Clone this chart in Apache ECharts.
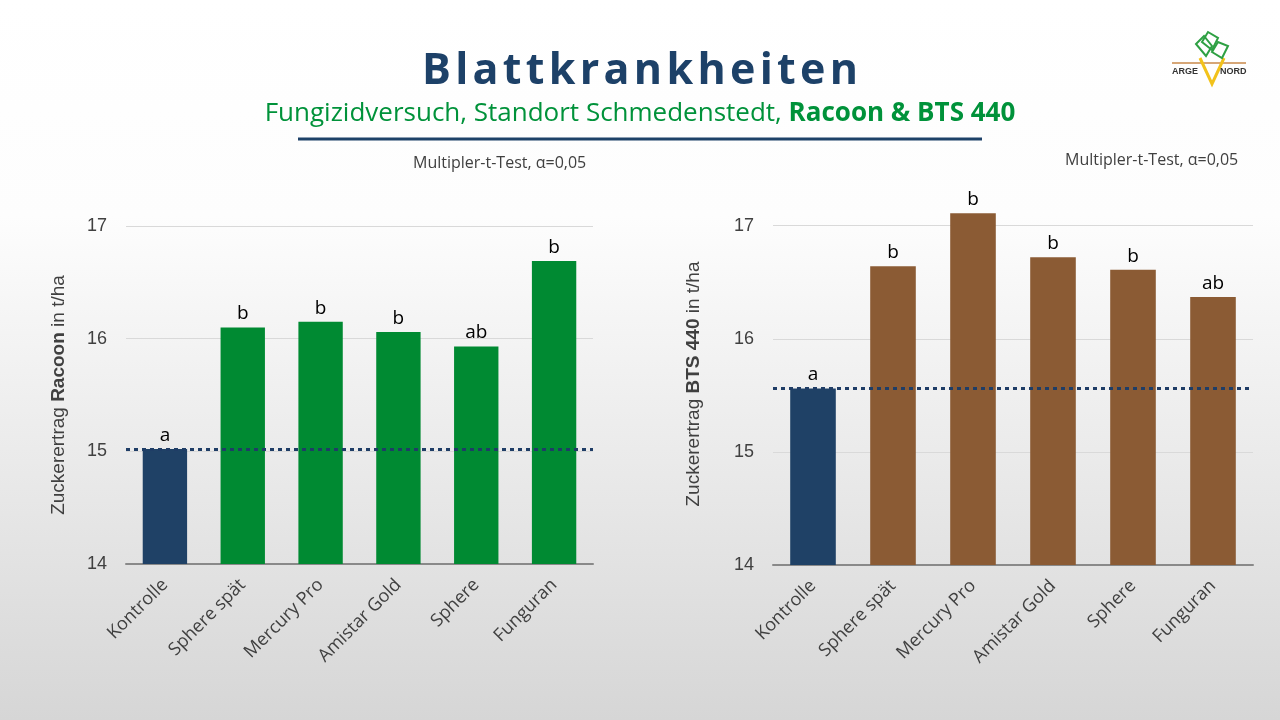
<!DOCTYPE html>
<html>
<head>
<meta charset="utf-8">
<script src="https://cdn.jsdelivr.net/npm/echarts@6/dist/echarts.min.js"></script>
<style>
  html, body { margin: 0; padding: 0; }
  #chart { width: 1280px; height: 720px; }
</style>
</head>
<body>
<div id="chart"></div>
<script>
var categories = ['Kontrolle', 'Sphere spät', 'Mercury Pro', 'Amistar Gold', 'Sphere', 'Funguran'];
var racoonValues = [15.02, 16.10, 16.15, 16.06, 15.93, 16.69];
var racoonLetters = ['a', 'b', 'b', 'b', 'ab', 'b'];
var btsValues = [15.56, 16.64, 17.11, 16.72, 16.61, 16.37];
var btsLetters = ['a', 'b', 'b', 'b', 'b', 'ab'];
var yMin = 14;
var yMaxLeft = 17;
var yMaxRight = 17.2;

var myChart = echarts.init(document.getElementById('chart'));

var labelColor = '#404040';
var ctrlBlue = '#1f4166';

function xAxisFor(idx) {
    return {
        type: 'category', gridIndex: idx, data: categories,
        axisLine: { lineStyle: { color: '#898989', width: 2 } },
        axisTick: { show: false },
        axisLabel: { rotate: 45, color: labelColor, fontFamily: 'Open Sans', fontSize: 18, margin: 18, interval: 0 }
    };
}

function yAxisFor(idx, name, gap, max) {
    return {
        type: 'value', gridIndex: idx,
        min: yMin, max: max, interval: 1,
        name: name, nameLocation: 'middle', nameRotate: 90, nameGap: gap,
        nameTextStyle: {
            color: labelColor, fontFamily: 'Liberation Sans', fontSize: 19,
            rich: {
                n: { color: labelColor, fontFamily: 'Liberation Sans', fontSize: 19 },
                b: { color: labelColor, fontFamily: 'Liberation Sans', fontSize: 19, fontWeight: 'bold' }
            }
        },
        axisLine: { show: false },
        axisTick: { show: false },
        axisLabel: { color: labelColor, fontFamily: 'Liberation Sans', fontSize: 18, margin: 19, showMaxLabel: max % 1 === 0 },
        splitLine: { showMaxLine: max % 1 === 0, lineStyle: { color: '#d9d9d9', width: 1 } }
    };
}

function barSeries(idx, values, letters, color) {
    return {
        type: 'bar', xAxisIndex: idx, yAxisIndex: idx,
        data: values, barWidth: '57%',
        itemStyle: {
            color: function (p) { return p.dataIndex === 0 ? ctrlBlue : color; }
        },
        label: {
            show: true, position: 'top', distance: 4,
            color: '#000', fontFamily: 'Open Sans', fontSize: 19,
            formatter: function (p) { return letters[p.dataIndex]; }
        },
        markLine: {
            silent: true, symbol: 'none',
            label: { show: false },
            lineStyle: { color: '#1f3d66', type: [4, 4], width: 3 },
            data: [{ yAxis: values[0] }]
        }
    };
}

var option = {
    backgroundColor: new echarts.graphic.LinearGradient(0, 0, 0, 1, [
        { offset: 0, color: '#ffffff' },
        { offset: 0.3, color: '#fdfdfd' },
        { offset: 1, color: '#d6d6d6' }
    ]),
    animation: false,
    title: [{
        text: 'Blattkrankheiten'.split('').join('\u200A'), left: 'center', top: 45,
        textStyle: { color: '#1d4168', fontFamily: 'Open Sans', fontWeight: 'bold', fontSize: 43 }
    }, {
        text: '{n|Fungizidversuch, Standort Schmedenstedt, }{b|Racoon & BTS 440}',
        left: 'center', top: 96,
        textStyle: {
            rich: {
                n: { color: '#00923a', fontFamily: 'Open Sans', fontSize: 26, fontWeight: 'normal' },
                b: { color: '#00923a', fontFamily: 'Open Sans', fontSize: 26, fontWeight: 'bold' }
            }
        }
    }, {
        text: 'Multipler-t-Test, α=0,05', left: 408, top: 150,
        textStyle: { color: labelColor, fontFamily: 'Open Sans', fontSize: 16, fontWeight: 'normal' }
    }, {
        text: 'Multipler-t-Test, α=0,05', left: 1060, top: 147,
        textStyle: { color: labelColor, fontFamily: 'Open Sans', fontSize: 16, fontWeight: 'normal' }
    }],
    grid: [
        { left: 126, right: 687, top: 226, bottom: 156 },
        { left: 773, right: 27, top: 203, bottom: 155 }
    ],
    xAxis: [xAxisFor(0), xAxisFor(1)],
    yAxis: [
        yAxisFor(0, '{n|Zuckerertrag }{b|Racoon}{n| in t/ha}', 58, yMaxLeft),
        yAxisFor(1, '{n|Zuckerertrag }{b|BTS 440}{n| in t/ha}', 70, yMaxRight)
    ],
    series: [
        barSeries(0, racoonValues, racoonLetters, '#008a32'),
        barSeries(1, btsValues, btsLetters, '#8b5b34')
    ],
    graphic: [
        { type: 'line', shape: { x1: 298, y1: 139, x2: 982, y2: 139 }, style: { stroke: '#1d4168', lineWidth: 3 } },
        // logo
        { type: 'line', shape: { x1: 1172, y1: 63, x2: 1246, y2: 63 }, style: { stroke: '#c8884a', lineWidth: 1.5 } },
        { type: 'polyline', shape: { points: [[1200, 58], [1212, 84], [1224, 58]] }, style: { stroke: '#f2c21b', lineWidth: 3, fill: null } },
        { type: 'polygon', shape: { points: [[1196, 44], [1204, 36], [1212, 46], [1206, 56]] }, style: { stroke: '#2ea043', lineWidth: 2, fill: null } },
        { type: 'polygon', shape: { points: [[1202, 42], [1208, 32], [1218, 38], [1212, 50]] }, style: { stroke: '#2ea043', lineWidth: 2, fill: null } },
        { type: 'polygon', shape: { points: [[1212, 52], [1218, 42], [1228, 46], [1222, 58]] }, style: { stroke: '#2ea043', lineWidth: 2, fill: null } },
        { type: 'text', left: 1172, top: 67, style: { text: 'ARGE', fill: '#333', font: 'bold 9px Liberation Sans' } },
        { type: 'text', left: 1220, top: 67, style: { text: 'NORD', fill: '#333', font: 'bold 9px Liberation Sans' } }
    ]
};

myChart.setOption(option);
</script>
</body>
</html>
